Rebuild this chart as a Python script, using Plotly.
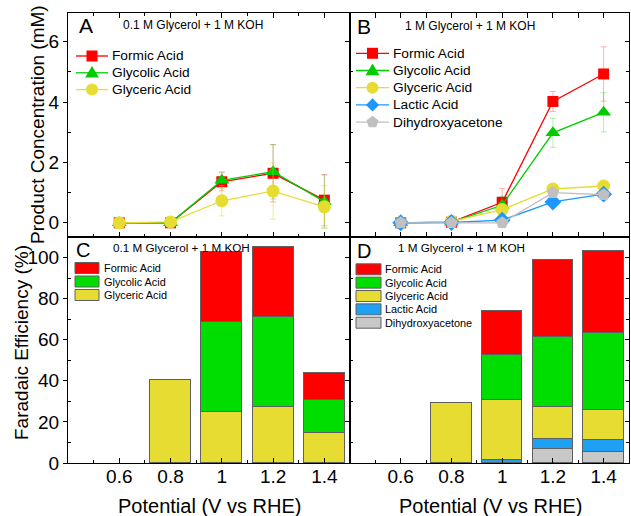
import math
import plotly.graph_objects as go

# ---------------- data ----------------
potential = [0.6, 0.8, 1.0, 1.2, 1.4]
tick_text = ["0.6", "0.8", "1", "1.2", "1.4"]
minor_x = [0.5, 0.7, 0.9, 1.1, 1.3]

series_names = ["Formic Acid", "Glycolic Acid", "Glyceric Acid", "Lactic Acid", "Dihydroxyacetone"]

# Panel A: 0.1 M Glycerol + 1 M KOH (mM)
A_formic = [0.0, 0.0, 1.36, 1.64, 0.75]
A_formic_err = [0.15, 0.1, 0.3, 0.95, 0.85]
A_glycolic = [0.0, 0.0, 1.41, 1.69, 0.70]
A_glycolic_err = [0.15, 0.1, 0.28, 0.9, 0.88]
A_glyceric = [0.0, 0.03, 0.73, 1.05, 0.53]
A_glyceric_err = [0.15, 0.1, 0.5, 0.93, 0.7]

# Panel B: 1 M Glycerol + 1 M KOH (mM)
B_formic = [0.0, 0.02, 0.68, 4.02, 4.93]
B_formic_err = [0.1, 0.1, 0.46, 0.33, 0.9]
B_glycolic = [0.0, 0.02, 0.58, 2.98, 3.66]
B_glycolic_err = [0.1, 0.1, 0.3, 0.48, 0.65]
B_glyceric = [0.0, 0.05, 0.44, 1.12, 1.22]
B_glyceric_err = [0.05, 0.05, 0.15, 0.15, 0.1]
B_lactic = [0.0, 0.01, 0.09, 0.69, 0.95]
B_lactic_err = [0.05, 0.05, 0.05, 0.1, 0.1]
B_dha = [0.0, 0.0, 0.0, 1.0, 0.93]
B_dha_err = [0.05, 0.05, 0.05, 0.1, 0.15]

# Panel C: Faradaic efficiency (%), 0.1 M Glycerol
C_glyceric = [None, 40.5, 25.0, 27.3, 14.4]
C_glycolic = [None, None, 43.7, 43.7, 16.3]
C_formic = [None, None, 33.9, 34.1, 13.3]

# Panel D: Faradaic efficiency (%), 1 M Glycerol
D_dha = [None, None, None, 6.8, 5.5]
D_lactic = [None, None, 1.5, 5.0, 5.8]
D_glyceric = [None, 29.4, 29.1, 15.4, 14.7]
D_glycolic = [None, None, 21.8, 34.1, 37.1]
D_formic = [None, None, 21.7, 37.4, 40.1]

# ---------------- style ----------------
FONT = "Arial, 'Liberation Sans', sans-serif"
W, H = 631, 516
ML, MR, MT, MB = 68, 2, 13, 53
PW, PH = W - ML - MR, H - MT - MB

def px(x):
    return (x - ML) / PW

def py(y):
    return (H - MB - y) / PH

XSPLIT = px(350)
YSPLIT = py(237)

line_col = {"Formic Acid": "#FF0000", "Glycolic Acid": "#00CC00", "Glyceric Acid": "#E6DC32",
            "Lactic Acid": "#1E96FF", "Dihydroxyacetone": "#C0C0C0"}
bar_col = {"Formic Acid": "#FF0000", "Glycolic Acid": "#00DD00", "Glyceric Acid": "#E6DC32",
           "Lactic Acid": "#1EA0F5", "Dihydroxyacetone": "#C8C8C8"}
err_col = {"Formic Acid": "rgba(255,0,0,0.3)", "Glycolic Acid": "rgba(0,204,0,0.3)",
           "Glyceric Acid": "rgba(220,210,40,0.45)", "Lactic Acid": "rgba(30,150,255,0.3)",
           "Dihydroxyacetone": "rgba(160,160,160,0.4)"}
symbols = {"Formic Acid": "square", "Glycolic Acid": "triangle-up", "Glyceric Acid": "circle",
           "Lactic Acid": "diamond", "Dihydroxyacetone": "pentagon"}
msize = {"Formic Acid": 11, "Glycolic Acid": 13, "Glyceric Acid": 13, "Lactic Acid": 13,
         "Dihydroxyacetone": 13}

fig = go.Figure()

def add_line(name, y, err, xa, ya):
    fig.add_trace(go.Scatter(
        x=potential, y=y, mode="lines+markers", name=name, showlegend=False,
        line=dict(color=line_col[name], width=1.3),
        marker=dict(symbol=symbols[name], size=msize[name], color=line_col[name],
                    line=dict(width=0)),
        error_y=dict(type="data", array=err, color=err_col[name], thickness=1, width=3),
        xaxis=xa, yaxis=ya))

add_line("Formic Acid", A_formic, A_formic_err, "x", "y")
add_line("Glycolic Acid", A_glycolic, A_glycolic_err, "x", "y")
add_line("Glyceric Acid", A_glyceric, A_glyceric_err, "x", "y")

add_line("Formic Acid", B_formic, B_formic_err, "x2", "y2")
add_line("Glycolic Acid", B_glycolic, B_glycolic_err, "x2", "y2")
add_line("Glyceric Acid", B_glyceric, B_glyceric_err, "x2", "y2")
add_line("Lactic Acid", B_lactic, B_lactic_err, "x2", "y2")
add_line("Dihydroxyacetone", B_dha, B_dha_err, "x2", "y2")

def add_bar(name, y, xa, ya):
    fig.add_trace(go.Bar(
        x=potential, y=y, name=name, showlegend=False, width=0.16,
        marker=dict(color=bar_col[name], line=dict(color="#606060", width=1)),
        xaxis=xa, yaxis=ya))

add_bar("Glyceric Acid", C_glyceric, "x3", "y3")
add_bar("Glycolic Acid", C_glycolic, "x3", "y3")
add_bar("Formic Acid", C_formic, "x3", "y3")

add_bar("Dihydroxyacetone", D_dha, "x4", "y4")
add_bar("Lactic Acid", D_lactic, "x4", "y4")
add_bar("Glyceric Acid", D_glyceric, "x4", "y4")
add_bar("Glycolic Acid", D_glycolic, "x4", "y4")
add_bar("Formic Acid", D_formic, "x4", "y4")

# empty traces so the right-side tick axes exist
fig.add_trace(go.Scatter(x=[], y=[], xaxis="x2", yaxis="y5", showlegend=False))
fig.add_trace(go.Scatter(x=[], y=[], xaxis="x4", yaxis="y6", showlegend=False))

# ---------------- axes ----------------
tickfont = dict(family=FONT, size=19, color="black")

def xaxis(domain, anchor, labels):
    return dict(domain=domain, anchor=anchor, range=[0.4, 1.5],
                tickmode="array", tickvals=potential, ticktext=tick_text,
                showticklabels=labels, tickfont=tickfont, ticklabelstandoff=-4,
                ticks="inside", ticklen=5, tickwidth=1, tickcolor="black",
                minor=dict(tickmode="array", tickvals=minor_x, ticks="inside", ticklen=3,
                           tickwidth=1, tickcolor="black"),
                showline=True, linecolor="black", linewidth=1,
                mirror=("allticks" if not labels else True),
                showgrid=False, zeroline=False)

def yaxis(domain, anchor, rng, major, minor, labels):
    return dict(domain=domain, anchor=anchor, range=rng,
                tickmode="array", tickvals=major, showticklabels=labels, tickfont=tickfont,
                ticks="outside", ticklen=4, tickwidth=1, tickcolor="black",
                minor=dict(tickmode="array", tickvals=minor, ticks="inside", ticklen=3,
                           tickwidth=1, tickcolor="black"),
                showline=True, linecolor="black", linewidth=1, mirror=True,
                showgrid=False, zeroline=False)

def yright(over, anchor, rng, major, minor):
    return dict(overlaying=over, anchor=anchor, side="right", range=rng,
                tickmode="array", tickvals=major, showticklabels=False,
                ticks="inside", ticklen=4, tickwidth=1, tickcolor="black",
                minor=dict(tickmode="array", tickvals=minor, ticks="inside", ticklen=3,
                           tickwidth=1, tickcolor="black"),
                showline=False, showgrid=False, zeroline=False)

top_rng = [-0.47, 6.95]
top_major = [0, 2, 4, 6]
top_minor = [1, 3, 5]
bot_rng = [0, 110]
bot_major = [0, 20, 40, 60, 80, 100]
bot_minor = [10, 30, 50, 70, 90]

fig.update_layout(
    xaxis=xaxis([0, XSPLIT], "y", False),
    yaxis=yaxis([YSPLIT, 1], "x", top_rng, top_major, top_minor, True),
    xaxis2=xaxis([XSPLIT, 1], "y2", False),
    yaxis2=yaxis([YSPLIT, 1], "x2", top_rng, top_major, top_minor, False),
    xaxis3=xaxis([0, XSPLIT], "y3", True),
    yaxis3=yaxis([0, YSPLIT], "x3", bot_rng, bot_major, bot_minor, True),
    xaxis4=xaxis([XSPLIT, 1], "y4", True),
    yaxis4=yaxis([0, YSPLIT], "x4", bot_rng, bot_major, bot_minor, False),
    yaxis5=yright("y2", "x2", top_rng, top_major, top_minor),
    yaxis6=yright("y4", "x4", bot_rng, bot_major, bot_minor),
)

# ---------------- annotations & legend glyphs ----------------
ann = []
shapes = []

def text(x, y, s, size, xanchor="center", angle=0):
    ann.append(dict(x=px(x), y=py(y), xref="paper", yref="paper", text=s, showarrow=False,
                    xanchor=xanchor, yanchor="middle", textangle=angle,
                    font=dict(family=FONT, size=size, color="black")))

# axis titles
text(37, 125, "Product Concentration (mM)", 19, angle=-90)
text(21, 343, "Faradaic Efficiency (%)", 19, angle=-90)
text(209, 506, "Potential (V vs RHE)", 20)
text(490, 506, "Potential (V vs RHE)", 20)

# panel labels & subtitles
text(86, 26, "A", 21)
text(364, 27, "B", 21)
text(83, 250, "C", 20)
text(364, 251, "D", 20)
text(192.5, 25, "0.1 M Glycerol + 1 M KOH", 12)
text(470, 26, "1 M Glycerol + 1 M KOH", 12)
text(181.5, 247, "0.1 M Glycerol + 1 M KOH", 11.7)
text(461.5, 248, "1 M Glycerol + 1 M KOH", 11.7)

def marker_shape(name, cx, cy, s):
    col = line_col[name]
    sym = symbols[name]
    base = dict(xref="paper", yref="paper", xsizemode="pixel", ysizemode="pixel",
                xanchor=px(cx), yanchor=py(cy), fillcolor=col, line=dict(width=0), layer="above")
    h = s / 2
    if sym == "circle":
        shapes.append(dict(type="circle", x0=-h, x1=h, y0=-h, y1=h, **base))
        return
    if sym == "square":
        pts = [(-h, -h), (h, -h), (h, h), (-h, h)]
    elif sym == "triangle-up":
        pts = [(0, h * 1.15), (h * 1.15, -h * 0.8), (-h * 1.15, -h * 0.8)]
    elif sym == "diamond":
        pts = [(0, h * 1.1), (h * 1.1, 0), (0, -h * 1.1), (-h * 1.1, 0)]
    else:
        pts = [(h * 1.05 * math.cos(math.radians(90 + 72 * k)),
                h * 1.05 * math.sin(math.radians(90 + 72 * k))) for k in range(5)]
    path = "M" + " L".join(f"{a:.2f},{b:.2f}" for a, b in pts) + " Z"
    shapes.append(dict(type="path", path=path, **base))

def line_legend(names, x0, x1, xt, y0, dy):
    for i, n in enumerate(names):
        y = y0 + dy * i
        shapes.append(dict(type="line", xref="paper", yref="paper", x0=px(x0), x1=px(x1),
                           y0=py(y), y1=py(y), line=dict(color=line_col[n], width=1.3)))
        marker_shape(n, (x0 + x1) / 2, y, 11 if symbols[n] == "square" else 12)
        text(xt, y, n, 13.7, xanchor="left")

def bar_legend(names, x0, x1, xt, y0, dy):
    for i, n in enumerate(names):
        y = y0 + dy * i
        shapes.append(dict(type="rect", xref="paper", yref="paper", x0=px(x0), x1=px(x1),
                           y0=py(y + 5.5), y1=py(y - 5.5), fillcolor=bar_col[n],
                           line=dict(color="#606060", width=1)))
        text(xt, y, n, 10.9, xanchor="left")

line_legend(series_names[:3], 76, 108, 110, 56, 16.8)
line_legend(series_names, 356, 389, 391, 53.3, 17.2)
bar_legend(series_names[:3], 75, 99, 102, 268, 13.5)
bar_legend(series_names, 356, 381, 383, 269.3, 13.35)

fig.update_layout(
    width=W, height=H, margin=dict(l=ML, r=MR, t=MT, b=MB, pad=0),
    barmode="stack", bargap=0,
    paper_bgcolor="white", plot_bgcolor="white",
    showlegend=False,
    annotations=ann, shapes=shapes,
    font=dict(family=FONT, color="black"),
)

fig.write_html("out.html", config={"displayModeBar": False},
               post_script="document.body.style.margin='0';document.body.style.padding='0';")
